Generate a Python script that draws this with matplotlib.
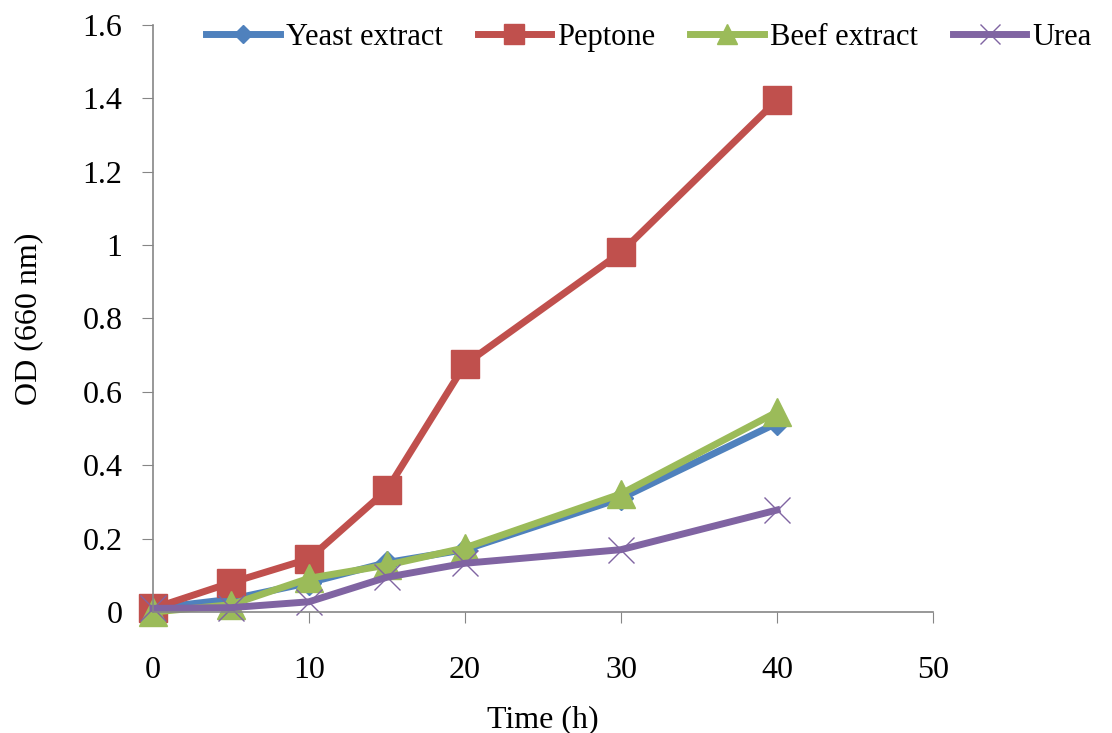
import matplotlib
matplotlib.use("Agg")
import matplotlib.pyplot as plt
from matplotlib.ticker import FuncFormatter

# growth data
time_h = [0, 5, 10, 15, 20, 30, 40]
yeast_extract = [0.01, 0.035, 0.08, 0.135, 0.17, 0.31, 0.515]
peptone = [0.01, 0.08, 0.145, 0.333, 0.675, 0.98, 1.395]
beef_extract = [0.0, 0.02, 0.092, 0.128, 0.175, 0.322, 0.545]
urea = [0.01, 0.012, 0.028, 0.095, 0.133, 0.17, 0.278]

x_ticks = [0, 10, 20, 30, 40, 50]
y_ticks = [0, 0.2, 0.4, 0.6, 0.8, 1.0, 1.2, 1.4, 1.6]

plt.rcParams["font.family"] = ["Liberation Serif", "DejaVu Serif"]
fs = 23

fig = plt.figure(figsize=(11.12, 7.33), dpi=100)
ax = fig.add_axes([0.1376, 0.165, 0.839 - 0.1376, 0.966 - 0.165])

lw = 5
ax.plot(time_h, yeast_extract, color="#4F81BD", lw=lw, marker="D",
        markersize=12, label="Yeast extract", clip_on=False)
ax.plot(time_h, peptone, color="#C0504D", lw=lw, marker="s",
        markersize=20, label="Peptone", clip_on=False)
ax.plot(time_h, beef_extract, color="#9BBB59", lw=lw, marker="^",
        markersize=20, label="Beef extract", clip_on=False)
ax.plot(time_h, urea, color="#8064A2", lw=lw, marker="x",
        markersize=19, markeredgewidth=1.0, label="Urea", clip_on=False)

ax.set_xlim(0, 50)
ax.set_ylim(0, 1.6)
ax.set_xticks(x_ticks)
ax.set_yticks(y_ticks)
ax.yaxis.set_major_formatter(FuncFormatter(lambda v, p: f"{v:g}"))

for side in ["top", "right"]:
    ax.spines[side].set_visible(False)
for side in ["left", "bottom"]:
    ax.spines[side].set_color("#868686")
    ax.spines[side].set_linewidth(1.2)

ax.tick_params(axis="x", direction="out", length=8, color="#868686",
               labelsize=fs, pad=24)
ax.tick_params(axis="y", direction="out", length=8, color="#868686",
               labelsize=fs, pad=14)

ax.set_xlabel("Time (h)", fontsize=fs, labelpad=14)
ax.set_ylabel("OD (660 nm)", fontsize=fs, labelpad=28)

fig.legend(loc="center", bbox_to_anchor=(0.5836, 0.949), ncol=4, frameon=False,
           fontsize=22, handlelength=2.4, columnspacing=1.15, handletextpad=0.2,
           markerscale=0.75)

fig.savefig("out.png", dpi=100)
plt.close(fig)
